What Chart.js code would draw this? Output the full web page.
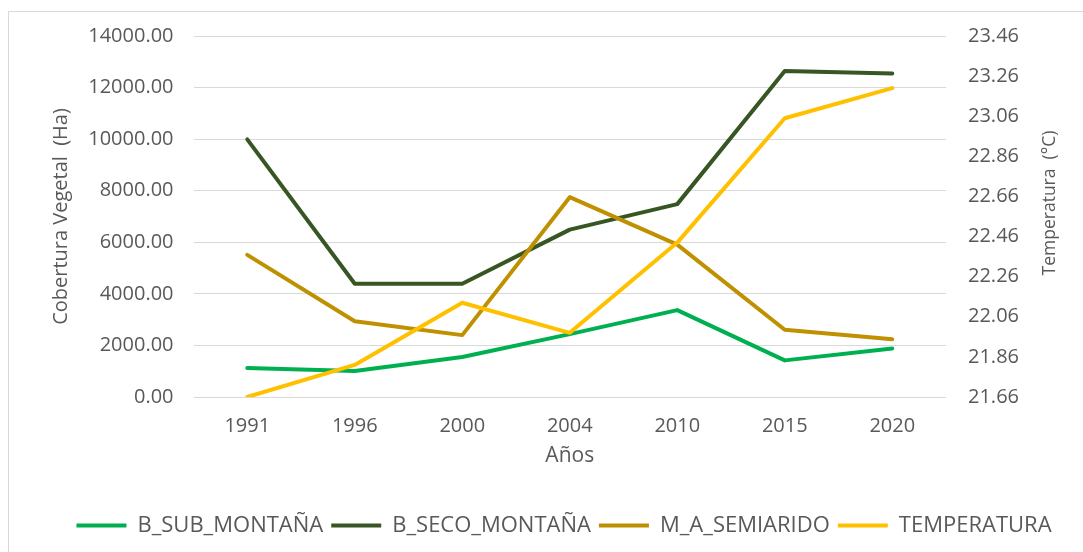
<!DOCTYPE html>
<html>
<head>
<meta charset="utf-8">
<script src="https://cdn.jsdelivr.net/npm/chart.js@4.4.1/dist/chart.umd.min.js"></script>
<style>
  body { margin: 0; background: #fff; }
  #frame { position: absolute; left: 8px; top: 11px; width: 1100px; height: 560px; border: 1px solid #d9d9d9; }
  #chart { position: absolute; left: 0; top: 0; }
</style>
</head>
<body>
<div id="frame"></div>
<canvas id="chart" width="1083" height="552"></canvas>
<script>
const years = ["1991", "1996", "2000", "2004", "2010", "2015", "2020"];
const bSubMontana = [1120, 1010, 1550, 2440, 3370, 1420, 1880];
const bSecoMontana = [9990, 4390, 4390, 6490, 7480, 12640, 12550];
const mASemiarido = [5510, 2940, 2400, 7750, 5910, 2610, 2240];
const temperatura = [21.66, 21.82, 22.13, 21.98, 22.43, 23.05, 23.2];

const grey = "#595959";
const font = "'Open Sans', sans-serif";

// excel puts the right title bottom-to-top, chart.js doesn't
const rightTitle = {
  id: "rightTitle",
  afterDraw(chart) {
    const ctx = chart.ctx;
    const s = chart.scales.y1;
    ctx.save();
    ctx.translate(s.right - 33, 203);
    ctx.rotate(-Math.PI / 2);
    ctx.font = "17.5px " + font;
    ctx.fillStyle = grey;
    ctx.textAlign = "center";
    ctx.textBaseline = "middle";
    ctx.fillText("Temperatura  (°C)", 0, 0);
    ctx.restore();
  }
};

function line(label, data, color, axis, order) {
  return {
    label: label,
    data: data,
    borderColor: color,
    backgroundColor: color,
    borderWidth: 4,
    borderCapStyle: "round",
    borderJoinStyle: "round",
    pointRadius: 0,
    tension: 0,
    yAxisID: axis,
    order: order
  };
}

new Chart(document.getElementById("chart"), {
  type: "line",
  data: {
    labels: years,
    datasets: [
      line("B_SUB_MONTAÑA", bSubMontana, "#00b050", "y", 4),
      line("B_SECO_MONTAÑA", bSecoMontana, "#375623", "y", 3),
      line("M_A_SEMIARIDO", mASemiarido, "#bf9000", "y", 2),
      line("TEMPERATURA", temperatura, "#ffc000", "y1", 1)
    ]
  },
  options: {
    responsive: false,
    animation: false,
    devicePixelRatio: 1,
    layout: { padding: { left: 45, right: 0, top: 36, bottom: 5.5 } },
    plugins: {
      tooltip: { enabled: false },
      legend: {
        position: "bottom",
        labels: {
          usePointStyle: true,
          pointStyle: "line",
          pointStyleWidth: 50,
          padding: 8,
          color: grey,
          font: { family: font, size: 22 },
          sort: (a, b) => a.datasetIndex - b.datasetIndex
        }
      }
    },
    scales: {
      x: {
        offset: true,
        grid: { display: false },
        border: { display: false },
        ticks: { color: grey, padding: 9, font: { family: font, size: 20 } },
        title: { display: true, text: "Años", color: grey, padding: { top: 0, bottom: 38 }, font: { family: font, size: 21 } },
        afterFit(scale) { scale.height = 109.5; }
      },
      y: {
        position: "left",
        min: 0,
        max: 14000,
        ticks: {
          stepSize: 2000,
          color: grey,
          padding: 20,
          font: { family: font, size: 20 },
          callback: (v) => v.toFixed(2)
        },
        grid: { color: "#d9d9d9", lineWidth: 1, drawTicks: false },
        border: { display: false },
        title: { display: true, text: "Cobertura Vegetal  (Ha)", color: grey, font: { family: font, size: 20 } },
        afterFit(scale) { scale.width = 148.5; }
      },
      y1: {
        position: "right",
        min: 21.66,
        max: 23.46,
        ticks: {
          stepSize: 0.2,
          color: grey,
          padding: 22,
          font: { family: font, size: 20 },
          callback: (v) => v.toFixed(2)
        },
        grid: { display: false, drawTicks: false },
        border: { display: false },
        afterFit(scale) { scale.width = 137; }
      }
    }
  },
  plugins: [rightTitle]
});
</script>
</body>
</html>
